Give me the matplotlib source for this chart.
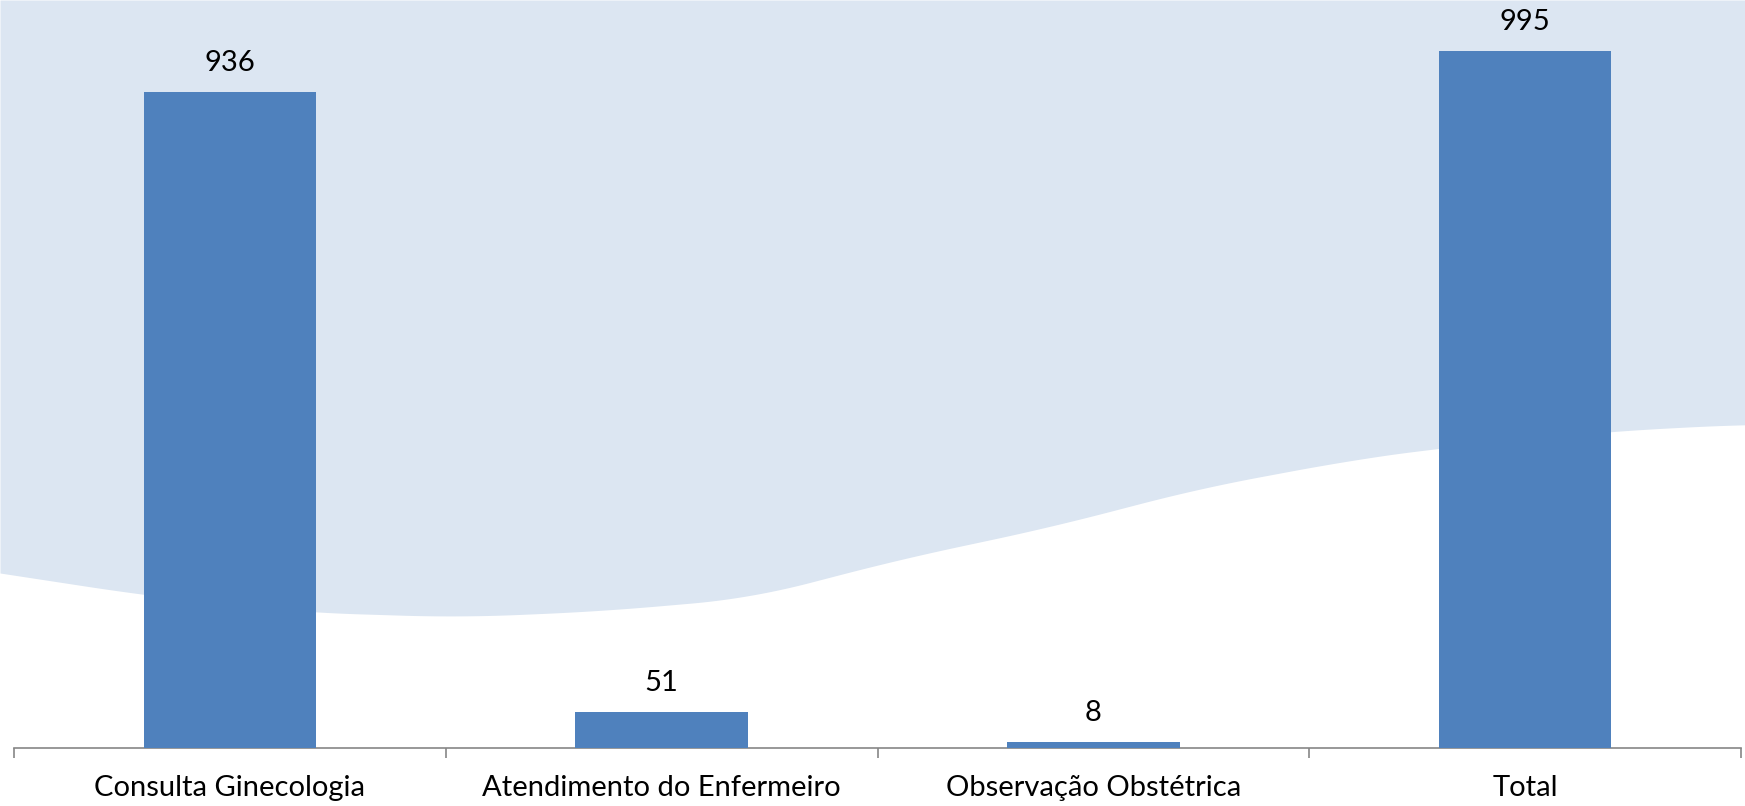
import numpy as np
import matplotlib.pyplot as plt
from matplotlib.ticker import FixedLocator

categories = ["Consulta Ginecologia", "Atendimento do Enfermeiro", "Observação Obstétrica", "Total"]
values = [936, 51, 8, 995]

plt.rcParams['font.family'] = ['Lato', 'DejaVu Sans']

W, H = 1745, 806
fig = plt.figure(figsize=(W / 100, H / 100), dpi=100)
fig.patch.set_facecolor("white")

# wavy light-blue backdrop (decoration, in figure pixels)
wave_x = [0, 144, 300, 460, 600, 750, 900, 1050, 1200, 1350, 1438, 1611, 1745]
wave_y = [573, 595, 612, 617, 611, 598, 559, 527, 488, 460, 448, 431, 424]
bg = fig.add_axes([0, 0, 1, 1])
bg.set_xlim(0, W)
bg.set_ylim(H, 0)
bg.axis("off")
xs = np.linspace(-200, W + 200, 2146)
ys = np.interp(xs, wave_x, wave_y, left=None, right=None)
# extend ends linearly, then smooth the kinks
ys[xs < 0] = wave_y[0] + (wave_y[1] - wave_y[0]) / wave_x[1] * xs[xs < 0]
k = 121
ys = np.convolve(ys, np.ones(k) / k, mode="same")
m = (xs >= 0) & (xs <= W)
bg.fill_between(xs[m], 0, ys[m], color="#DCE6F2", lw=0)

ax = fig.add_axes([14 / W, (H - 747.7) / H, (1741 - 14) / W, 747.7 / H])
ax.patch.set_alpha(0)
x = np.arange(len(categories))
bars = ax.bar(x, values, width=0.4, color="#4F81BD", zorder=3)
ax.set_xlim(-0.5, len(categories) - 0.5)
ax.set_ylim(0, 1068)

for xi, v in zip(x, values):
    ax.annotate(str(v), (xi, v), xytext=(0, 21), textcoords="offset points",
                ha="center", va="center", fontsize=21, color="black")

for s in ["top", "left", "right"]:
    ax.spines[s].set_visible(False)
ax.spines["bottom"].set_color("#868686")
ax.spines["bottom"].set_linewidth(1.2)
ax.set_yticks([])
ax.set_xticks(x)
ax.set_xticklabels(categories, fontsize=21)
ax.tick_params(axis="x", which="major", length=0, pad=20)
ax.xaxis.set_minor_locator(FixedLocator(np.arange(-0.5, len(categories), 1.0)))
ax.tick_params(axis="x", which="minor", length=7, color="#868686", width=1.2)

fig.savefig("out.png", dpi=100)
